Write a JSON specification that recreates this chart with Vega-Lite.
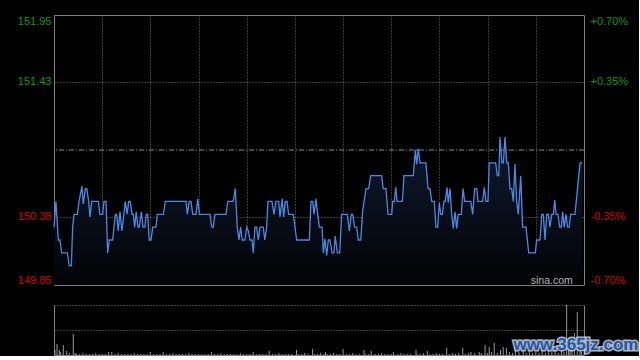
{
  "$schema": "https://vega.github.io/schema/vega-lite/v6.json",
  "background": "#000000",
  "padding": {"left": 16, "top": 14, "right": 0, "bottom": 0},
  "spacing": 17,
  "config": {
    "axis": {"labelFont": "Liberation Sans", "labelFontSize": 11, "ticks": false, "domain": false, "title": null, "gridColor": "#767676", "gridDash": [1, 2], "gridWidth": 1}
  },
  "vconcat": [
    {
      "width": 530,
      "height": 270,
      "view": {"stroke": "#808080", "strokeWidth": 1},
      "layer": [
        {
          "data": {"name": "price", "values": [
            {"t":0,"p":150.30},{"t":1.2,"p":150.50},{"t":2.7,"p":150.20},{"t":3.7,"p":150.20},{"t":4.8,"p":150.10},{"t":8.3,"p":150.10},{"t":9.5,"p":150.00},{"t":10.8,"p":150.00},{"t":11.6,"p":150.30},{"t":12.5,"p":150.40},{"t":14.5,"p":150.40},{"t":15.6,"p":150.50},{"t":17.4,"p":150.62},{"t":18.2,"p":150.48},{"t":19.5,"p":150.60},{"t":20.4,"p":150.60},{"t":21.6,"p":150.50},{"t":22.4,"p":150.38},{"t":23.5,"p":150.50},{"t":27.6,"p":150.50},{"t":28.6,"p":150.40},{"t":30.3,"p":150.40},{"t":31.1,"p":150.50},{"t":32.4,"p":150.50},{"t":33.4,"p":150.10},{"t":34.4,"p":150.20},{"t":36.5,"p":150.20},{"t":38.2,"p":150.40},{"t":39.0,"p":150.40},{"t":40.0,"p":150.27},{"t":41.1,"p":150.42},{"t":42.3,"p":150.27},{"t":44.4,"p":150.50},{"t":45.5,"p":150.40},{"t":46.5,"p":150.50},{"t":47.5,"p":150.50},{"t":48.6,"p":150.40},{"t":49.4,"p":150.40},{"t":50.2,"p":150.30},{"t":51.2,"p":150.42},{"t":52.3,"p":150.30},{"t":53.1,"p":150.30},{"t":54.4,"p":150.42},{"t":55.4,"p":150.30},{"t":56.5,"p":150.30},{"t":57.5,"p":150.40},{"t":58.3,"p":150.40},{"t":59.3,"p":150.20},{"t":60.4,"p":150.20},{"t":61.5,"p":150.30},{"t":63.5,"p":150.30},{"t":64.3,"p":150.40},{"t":68.1,"p":150.40},{"t":69.3,"p":150.50},{"t":82.2,"p":150.50},{"t":83.0,"p":150.40},{"t":84.2,"p":150.50},{"t":85.3,"p":150.50},{"t":86.4,"p":150.40},{"t":88.4,"p":150.40},{"t":89.5,"p":150.52},{"t":90.5,"p":150.40},{"t":97.1,"p":150.40},{"t":98.2,"p":150.30},{"t":99.2,"p":150.30},{"t":100.2,"p":150.40},{"t":107.1,"p":150.40},{"t":108.2,"p":150.50},{"t":111.6,"p":150.50},{"t":112.9,"p":150.60},{"t":114.1,"p":150.30},{"t":115.2,"p":150.20},{"t":116.2,"p":150.30},{"t":117.2,"p":150.20},{"t":118.9,"p":150.20},{"t":120.0,"p":150.30},{"t":121.0,"p":150.27},{"t":122.0,"p":150.20},{"t":123.3,"p":150.20},{"t":124.1,"p":150.10},{"t":125.1,"p":150.30},{"t":126.2,"p":150.30},{"t":127.2,"p":150.20},{"t":128.3,"p":150.30},{"t":130.3,"p":150.30},{"t":131.2,"p":150.20},{"t":132.4,"p":150.30},{"t":133.2,"p":150.50},{"t":135.7,"p":150.50},{"t":137.0,"p":150.40},{"t":138.2,"p":150.50},{"t":139.9,"p":150.50},{"t":140.7,"p":150.38},{"t":142.1,"p":150.52},{"t":143.0,"p":150.38},{"t":144.0,"p":150.50},{"t":145.1,"p":150.50},{"t":146.1,"p":150.40},{"t":149.0,"p":150.40},{"t":151.1,"p":150.20},{"t":159.0,"p":150.20},{"t":160.0,"p":150.50},{"t":161.1,"p":150.50},{"t":161.9,"p":150.40},{"t":163.1,"p":150.52},{"t":164.4,"p":150.38},{"t":165.2,"p":150.30},{"t":166.9,"p":150.30},{"t":167.7,"p":150.10},{"t":168.7,"p":150.21},{"t":169.8,"p":150.08},{"t":170.8,"p":150.20},{"t":171.8,"p":150.20},{"t":173.1,"p":150.10},{"t":174.3,"p":150.10},{"t":175.1,"p":150.23},{"t":176.4,"p":150.10},{"t":177.9,"p":150.10},{"t":179.1,"p":150.40},{"t":182.6,"p":150.40},{"t":183.9,"p":150.27},{"t":185.1,"p":150.40},{"t":186.0,"p":150.40},{"t":187.2,"p":150.30},{"t":188.5,"p":150.30},{"t":189.5,"p":150.20},{"t":191.0,"p":150.20},{"t":192.2,"p":150.43},{"t":194.3,"p":150.60},{"t":195.9,"p":150.60},{"t":197.2,"p":150.70},{"t":204.0,"p":150.70},{"t":205.0,"p":150.60},{"t":206.7,"p":150.60},{"t":208.0,"p":150.40},{"t":210.3,"p":150.40},{"t":210.9,"p":150.50},{"t":211.9,"p":150.50},{"t":212.8,"p":150.61},{"t":213.6,"p":150.50},{"t":216.9,"p":150.50},{"t":217.9,"p":150.70},{"t":223.7,"p":150.70},{"t":225.0,"p":150.90},{"t":225.8,"p":150.79},{"t":226.8,"p":150.91},{"t":227.9,"p":150.80},{"t":231.6,"p":150.80},{"t":232.9,"p":150.60},{"t":234.1,"p":150.60},{"t":235.2,"p":150.50},{"t":236.8,"p":150.50},{"t":237.8,"p":150.30},{"t":238.9,"p":150.30},{"t":239.9,"p":150.49},{"t":240.8,"p":150.40},{"t":241.8,"p":150.40},{"t":242.8,"p":150.50},{"t":243.6,"p":150.50},{"t":244.7,"p":150.61},{"t":245.5,"p":150.49},{"t":246.6,"p":150.60},{"t":247.6,"p":150.40},{"t":248.6,"p":150.29},{"t":249.7,"p":150.42},{"t":250.7,"p":150.29},{"t":251.7,"p":150.40},{"t":253.6,"p":150.40},{"t":254.7,"p":150.60},{"t":255.7,"p":150.50},{"t":259.5,"p":150.50},{"t":260.7,"p":150.40},{"t":261.9,"p":150.60},{"t":263.2,"p":150.60},{"t":264.0,"p":150.50},{"t":266.9,"p":150.50},{"t":267.9,"p":150.61},{"t":269.0,"p":150.50},{"t":270.2,"p":150.50},{"t":271.0,"p":150.80},{"t":275.0,"p":150.80},{"t":276.0,"p":150.70},{"t":276.9,"p":150.70},{"t":277.7,"p":151.00},{"t":278.9,"p":150.80},{"t":279.8,"p":150.80},{"t":280.8,"p":151.00},{"t":281.9,"p":150.80},{"t":282.9,"p":150.80},{"t":283.9,"p":150.60},{"t":285.0,"p":150.60},{"t":286.0,"p":150.50},{"t":287.0,"p":150.79},{"t":288.1,"p":150.50},{"t":289.1,"p":150.40},{"t":290.6,"p":150.70},{"t":291.8,"p":150.30},{"t":293.9,"p":150.30},{"t":295.6,"p":150.10},{"t":299.7,"p":150.10},{"t":300.5,"p":150.20},{"t":302.6,"p":150.20},{"t":303.7,"p":150.40},{"t":304.7,"p":150.40},{"t":305.7,"p":150.20},{"t":306.8,"p":150.40},{"t":307.8,"p":150.40},{"t":308.8,"p":150.30},{"t":309.9,"p":150.40},{"t":310.9,"p":150.40},{"t":311.8,"p":150.51},{"t":312.6,"p":150.40},{"t":313.8,"p":150.40},{"t":314.9,"p":150.30},{"t":315.9,"p":150.30},{"t":316.7,"p":150.42},{"t":317.7,"p":150.30},{"t":318.8,"p":150.40},{"t":319.8,"p":150.30},{"t":320.8,"p":150.30},{"t":321.7,"p":150.40},{"t":324.4,"p":150.40},{"t":327.5,"p":150.80},{"t":328.9,"p":150.80}
          ]},
          "mark": {"type": "area", "color": {"gradient": "linear", "x1": 1, "y1": 1, "x2": 1, "y2": 0, "stops": [{"offset": 0, "color": "#020306"}, {"offset": 1, "color": "#0f1a2e"}]}},
          "encoding": {
            "x": {"field": "t", "type": "quantitative", "scale": {"domain": [0, 330], "nice": false, "zero": false}, "axis": {"values": [30, 60, 90, 120, 150, 180, 210, 240, 270, 300], "labels": false, "grid": true}},
            "y": {"field": "p", "type": "quantitative", "scale": {"domain": [149.85, 151.95], "nice": false, "zero": false}, "axis": {"orient": "left", "values": [149.85, 150.38, 151.43, 151.95], "format": ".2f", "labelPadding": 3, "labelFlush": true, "labelFlushOffset": 0, "grid": true, "gridOpacity": {"condition": {"test": "datum.value > 151.9 || datum.value < 149.9", "value": 0}, "value": 1}, "labelColor": {"condition": {"test": "datum.value > 150.9", "value": "#0c9c0c"}, "value": "#d40000"}}},
            "y2": {"datum": 149.85}
          }
        },
        {
          "data": {"name": "price"},
          "mark": {"type": "line", "color": "#4a8ae4", "strokeWidth": 1.3},
          "encoding": {
            "x": {"field": "t", "type": "quantitative"},
            "y": {"field": "p", "type": "quantitative", "axis": {"orient": "right", "values": [149.85, 150.38, 151.43, 151.95], "labelExpr": "datum.value > 151.9 ? '+0.70%' : datum.value > 151 ? '+0.35%' : datum.value > 150 ? '-0.35%' : '-0.70%'", "labelPadding": 6, "labelFlush": true, "labelFlushOffset": 0, "grid": false, "labelColor": {"condition": {"test": "datum.value > 150.9", "value": "#0c9c0c"}, "value": "#d40000"}}}
          }
        },
        {
          "data": {"values": [{"prevClose": 150.9}]},
          "mark": {"type": "rule", "color": "#8c8c8c", "strokeWidth": 1, "strokeDash": [5, 2, 1, 2]},
          "encoding": {"y": {"field": "prevClose", "type": "quantitative", "axis": null}}
        },
        {
          "data": {"values": [{"label": "sina.com"}]},
          "mark": {"type": "text", "color": "#b4b4b4", "font": "Liberation Sans", "fontSize": 10.5, "align": "right", "baseline": "alphabetic"},
          "encoding": {"text": {"field": "label"}, "x": {"datum": 323, "type": "quantitative"}, "y": {"datum": 149.86, "type": "quantitative", "axis": null}}
        }
      ],
      "resolve": {"axis": {"y": "independent"}}
    },
    {
      "width": 530,
      "height": 50,
      "view": {"stroke": null},
      "layer": [
        {
          "data": {"values": [
            {"t":14,"v":1},{"t":16,"v":1},{"t":18,"v":2},{"t":20,"v":1},{"t":22,"v":1},{"t":24,"v":1},{"t":26,"v":2},{"t":28,"v":1},{"t":30,"v":1},{"t":32,"v":1},{"t":34,"v":3},{"t":36,"v":3},{"t":38,"v":1},{"t":40,"v":2},{"t":42,"v":1},{"t":44,"v":1},{"t":46,"v":1},{"t":48,"v":1},{"t":50,"v":2},{"t":52,"v":1},{"t":54,"v":1},{"t":56,"v":1},{"t":58,"v":1},{"t":60,"v":3},{"t":62,"v":1},{"t":64,"v":1},{"t":66,"v":1},{"t":68,"v":3},{"t":70,"v":1},{"t":72,"v":1},{"t":74,"v":2},{"t":76,"v":1},{"t":78,"v":1},{"t":80,"v":1},{"t":82,"v":1},{"t":84,"v":2},{"t":86,"v":1},{"t":88,"v":1},{"t":90,"v":1},{"t":92,"v":1},{"t":94,"v":1},{"t":96,"v":1},{"t":98,"v":3},{"t":100,"v":1},{"t":102,"v":1},{"t":104,"v":2},{"t":106,"v":1},{"t":108,"v":1},{"t":110,"v":1},{"t":112,"v":1},{"t":114,"v":1},{"t":116,"v":2},{"t":118,"v":1},{"t":120,"v":1},{"t":122,"v":1},{"t":124,"v":3},{"t":126,"v":1},{"t":128,"v":1},{"t":130,"v":1},{"t":132,"v":1},{"t":134,"v":4},{"t":136,"v":1},{"t":138,"v":1},{"t":140,"v":2},{"t":142,"v":1},{"t":144,"v":1},{"t":146,"v":1},{"t":148,"v":1},{"t":151,"v":5},{"t":152,"v":1},{"t":154,"v":1},{"t":156,"v":2},{"t":158,"v":1},{"t":161,"v":6},{"t":162,"v":1},{"t":164,"v":1},{"t":166,"v":2},{"t":168,"v":1},{"t":169,"v":3},{"t":170,"v":1},{"t":172,"v":1},{"t":174,"v":2},{"t":176,"v":1},{"t":178,"v":1},{"t":180,"v":6},{"t":182,"v":1},{"t":184,"v":1},{"t":186,"v":2},{"t":188,"v":1},{"t":190,"v":1},{"t":193,"v":5},{"t":194,"v":1},{"t":196,"v":1},{"t":197.5,"v":4},{"t":200,"v":1},{"t":202,"v":1},{"t":204,"v":2},{"t":206,"v":1},{"t":208,"v":1},{"t":210,"v":1},{"t":211.3,"v":3},{"t":214,"v":1},{"t":216,"v":2},{"t":218,"v":1},{"t":220,"v":1},{"t":222,"v":1},{"t":225.4,"v":5},{"t":226,"v":1},{"t":228,"v":1},{"t":230,"v":2},{"t":232.4,"v":4},{"t":234,"v":1},{"t":236,"v":1},{"t":238,"v":2},{"t":240,"v":1},{"t":242,"v":1},{"t":244.5,"v":7},{"t":246,"v":1},{"t":248,"v":2},{"t":250,"v":1},{"t":252,"v":2},{"t":254.5,"v":7},{"t":256,"v":1},{"t":258,"v":2},{"t":259.6,"v":3},{"t":262,"v":2},{"t":264.8,"v":3},{"t":266,"v":2},{"t":268.4,"v":10},{"t":270,"v":2},{"t":271,"v":8},{"t":272.5,"v":3},{"t":274.1,"v":12},{"t":276,"v":2},{"t":278,"v":5},{"t":279.7,"v":8},{"t":281.7,"v":7},{"t":283.5,"v":3},{"t":285.5,"v":2},{"t":287.3,"v":8},{"t":289.5,"v":3},{"t":292.2,"v":6},{"t":294,"v":2},{"t":296,"v":4},{"t":298,"v":2},{"t":300,"v":3},{"t":302,"v":2},{"t":304,"v":5},{"t":306,"v":2},{"t":308,"v":4},{"t":310,"v":3},{"t":312,"v":6},{"t":314,"v":2},{"t":316,"v":4},{"t":317.5,"v":3},{"t":319.2,"v":50},{"t":320.3,"v":6},{"t":321.3,"v":12},{"t":322.5,"v":5},{"t":324,"v":22},{"t":325.8,"v":43},{"t":327.5,"v":8},{"t":328.5,"v":3},
            {"t":0.6,"v":5},{"t":1.9,"v":11},{"t":3.3,"v":5},{"t":4.2,"v":3},{"t":5.8,"v":10},{"t":7.9,"v":4},{"t":9.5,"v":2},{"t":12.0,"v":21},{"t":13.2,"v":2}
          ]},
          "mark": {"type": "rule", "color": "#9a9a9a", "strokeWidth": 1},
          "encoding": {
            "x": {"field": "t", "type": "quantitative", "scale": {"domain": [0, 330], "nice": false, "zero": false}, "axis": {"labels": false, "grid": false, "domain": true, "domainColor": "#808080"}},
            "y": {"field": "v", "type": "quantitative", "scale": {"domain": [0, 50], "nice": false}, "axis": {"orient": "left", "values": [25, 50], "labels": false, "grid": true, "domain": true, "domainColor": "#808080"}},
            "y2": {"datum": 0}
          }
        },
        {
          "data": {"values": [{"label": "www.365jz.com"}]},
          "mark": {"type": "text", "font": "Liberation Sans", "fontWeight": "bold", "fontSize": 17, "align": "center", "baseline": "middle", "color": "#c9d3e3", "stroke": "#c9d3e3", "strokeWidth": 3, "opacity": 0.85},
          "encoding": {"text": {"field": "label"}, "x": {"datum": 325, "type": "quantitative"}, "y": {"datum": 10, "type": "quantitative", "axis": {"orient": "right", "labels": false, "grid": false, "domain": true, "domainColor": "#808080"}}}
        },
        {
          "data": {"values": [{"label": "www.365jz.com"}]},
          "mark": {"type": "text", "font": "Liberation Sans", "fontWeight": "bold", "fontSize": 17, "align": "center", "baseline": "middle", "color": "#2456a6"},
          "encoding": {"text": {"field": "label"}, "x": {"datum": 325, "type": "quantitative"}, "y": {"datum": 10, "type": "quantitative", "axis": null}}
        }
      ],
      "resolve": {"axis": {"y": "independent"}}
    }
  ]
}
